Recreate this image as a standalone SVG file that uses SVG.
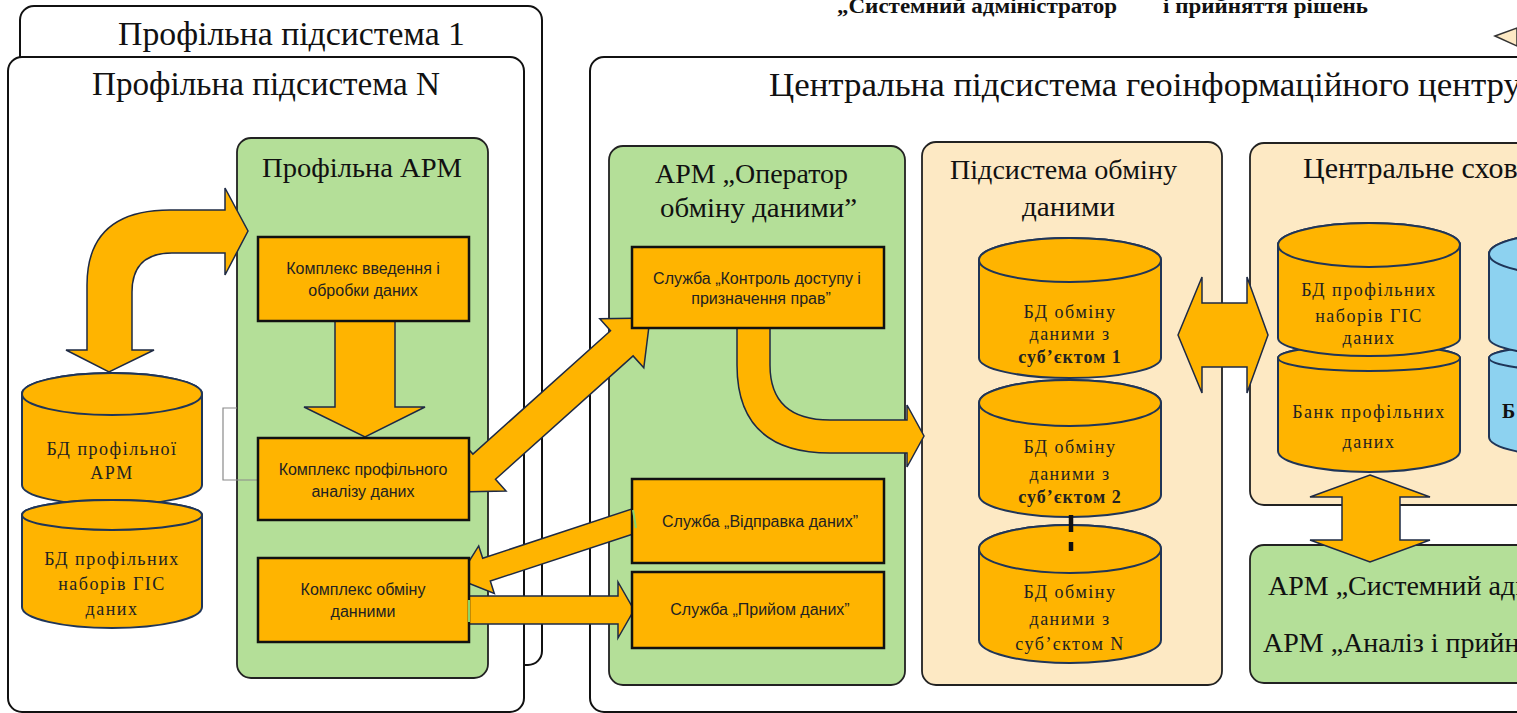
<svg xmlns="http://www.w3.org/2000/svg" width="1517" height="713" viewBox="0 0 1517 713">
<defs>
<style>
.cont{fill:#fff;stroke:#111;stroke-width:2}
.green{fill:#B4DF98;stroke:#222;stroke-width:1.8}
.beige{fill:#FDE9C4;stroke:#222;stroke-width:1.8}
.box{fill:#FFB400;stroke:#111;stroke-width:2.5}
.cyl{fill:#FFB400;stroke:#1F3558;stroke-width:2}
.cylb{fill:#8DD2F0;stroke:#1F3558;stroke-width:2}
.arr{fill:#FFB400;stroke:#1E2A44;stroke-width:1.5;stroke-linejoin:miter}
.t{font-family:"Liberation Serif","Times New Roman",serif;fill:#111}
.s{font-family:"Liberation Sans",Arial,sans-serif;fill:#222;font-size:16px;text-anchor:middle}
.c{font-family:"Liberation Serif","Times New Roman",serif;font-size:18px;letter-spacing:1.5px;fill:#222;text-anchor:middle}
.cb{font-weight:bold;letter-spacing:1px}
.tick{stroke:#8BD46A;stroke-width:2}
</style>
</defs>
<rect width="1517" height="713" fill="#fff"/>

<g id="top-fragment">
<text class="t" x="837" y="13" font-size="20" font-weight="bold" textLength="280" lengthAdjust="spacingAndGlyphs">„Системний адміністратор</text>
<text class="t" x="1163" y="13" font-size="20" font-weight="bold" textLength="205" lengthAdjust="spacingAndGlyphs">і прийняття рішень</text>
<polygon points="1495,36 1517,28 1517,46" fill="#FDE9C4" stroke="#333" stroke-width="1.5"/>
</g>

<g id="sub1">
<rect class="cont" x="20" y="6" width="522" height="659" rx="14"/>
<text class="t" x="118" y="45" font-size="34" textLength="347" lengthAdjust="spacingAndGlyphs">Профільна підсистема 1</text>
</g>
<g id="subN">
<rect class="cont" x="8" y="57" width="516" height="655" rx="14"/>
<text class="t" x="92" y="95" font-size="34" textLength="348" lengthAdjust="spacingAndGlyphs">Профільна підсистема N</text>
</g>
<g id="central">
<rect class="cont" x="590" y="57" width="960" height="655" rx="14"/>
<text class="t" x="769" y="96" font-size="34" textLength="752" lengthAdjust="spacingAndGlyphs">Центральна підсистема геоінформаційного центру</text>
</g>

<g id="arm-profile">
<rect class="green" x="237" y="138" width="251" height="540" rx="14"/>
<text class="t" x="262" y="177" font-size="28" textLength="200" lengthAdjust="spacingAndGlyphs">Профільна АРМ</text>
</g>
<g id="arm-operator">
<rect class="green" x="609" y="146" width="296" height="539" rx="14"/>
<text class="t" x="655" y="183" font-size="28" textLength="193" lengthAdjust="spacingAndGlyphs">АРМ „Оператор</text>
<text class="t" x="660" y="217" font-size="28" textLength="197" lengthAdjust="spacingAndGlyphs">обміну даними”</text>
</g>
<g id="exchange">
<rect class="beige" x="922" y="142" width="300" height="543" rx="14"/>
<text class="t" x="950" y="179" font-size="28" textLength="227" lengthAdjust="spacingAndGlyphs">Підсистема обміну</text>
<text class="t" x="1022" y="216" font-size="28" textLength="93" lengthAdjust="spacingAndGlyphs">даними</text>
</g>
<g id="storage">
<rect class="beige" x="1250" y="143" width="290" height="362" rx="14"/>
<text class="t" x="1303" y="178" font-size="30">Центральне сховище</text>
</g>
<g id="arm-admin">
<rect class="green" x="1250" y="545" width="290" height="138" rx="14"/>
<text class="t" x="1268" y="595" font-size="28">АРМ „Системний адміністратор”</text>
<text class="t" x="1263" y="652" font-size="28">АРМ „Аналіз і прийняття рішень”</text>
</g>

<g id="connectors">
<path class="arr" d="M87,350 L66,350 L109,372 L154,350 L132,350 L132,292 Q132,253 172,253 L225,253 L225,275 L248,231 L225,188 L225,210 L170,210 Q87,210 87,285 Z"/>
<polygon class="arr" points="335,321 335,407 304,407 365,437 425,407 395,407 395,321"/>
<polygon class="arr" points="456,492 506,491 495.5,479.3 633.1,355.9 643.8,367.8 650,318 599.8,318.8 610.5,330.7 472.9,454.1 462.2,442.2"/>
<polygon class="arr" points="458,579 494.3,593.4 490.3,581 643.8,530.4 636.2,507.6 482.7,558.2 478.7,545.9"/>
<polygon class="arr" points="460,596 618,596 618,582 634,610 618,638 618,624 460,624"/>
<path class="arr" d="M737,322 L737,365 Q737,453 830,453 L907,453 L907,467 L924,436 L907,405 L907,420 L830,420 Q770,420 770,365 L770,322 Z"/>
<polygon class="arr" points="1178,335 1202,277 1202,303 1247,303 1247,277 1268,335 1247,393 1247,367 1202,367 1202,393"/>
<polygon class="arr" points="1370,475 1430,497 1400,497 1400,540 1430,540 1370,562 1310,540 1342,540 1342,497 1310,497"/>
<polyline points="237,408 223,408 223,480 258,480" fill="none" stroke="#8a8a8a" stroke-width="1.2"/>
</g>

<g id="box-input">
<rect class="box" x="258" y="237" width="211" height="84"/>
<text class="s" x="363" y="274">Комплекс введення і</text>
<text class="s" x="363" y="296">обробки даних</text>
</g>
<g id="box-analysis">
<rect class="box" x="258" y="438" width="211" height="82"/>
<text class="s" x="363" y="475">Комплекс профільного</text>
<text class="s" x="363" y="497">аналізу даних</text>
</g>
<g id="box-exchange">
<rect class="box" x="258" y="558" width="211" height="84"/>
<text class="s" x="363" y="595">Комплекс обміну</text>
<text class="s" x="363" y="617">данними</text>
<line class="tick" x1="469" y1="600" x2="469" y2="622"/>
</g>

<g id="svc-access">
<rect class="box" x="632" y="247" width="252" height="81"/>
<text class="s" x="757" y="284" font-size="15">Служба „Контроль доступу і</text>
<text class="s" x="761" y="304" font-size="15">призначення прав”</text>
</g>
<g id="svc-send">
<rect class="box" x="632" y="479" width="252" height="84"/>
<text class="s" x="760" y="527" font-size="15">Служба „Відправка даних”</text>
<line class="tick" x1="633" y1="510" x2="636" y2="528"/>
</g>
<g id="svc-receive">
<rect class="box" x="632" y="572" width="252" height="76"/>
<text class="s" x="760" y="615" font-size="15">Служба „Прийом даних”</text>
</g>

<g id="db-arm">
<path class="cyl" d="M22,394 L22,485 A90,20 0 0 0 202,485 L202,394 A90,21 0 0 0 22,394 Z"/>
<ellipse class="cyl" cx="112" cy="394" rx="90" ry="21"/>
<text class="c" x="112" y="455">БД профільної</text>
<text class="c" x="112" y="479">АРМ</text>
</g>
<g id="db-gis">
<path class="cyl" d="M22,515 L22,607 A90,21 0 0 0 202,607 L202,515 A90,15 0 0 0 22,515 Z"/>
<ellipse class="cyl" cx="112" cy="515" rx="90" ry="15"/>
<text class="c" x="112" y="565">БД  профільних</text>
<text class="c" x="112" y="590">наборів ГІС</text>
<text class="c" x="112" y="615">даних</text>
</g>

<g id="db-ex1">
<path class="cyl" d="M979,260 L979,358 A91,20 0 0 0 1161,358 L1161,260 A91,22 0 0 0 979,260 Z"/>
<ellipse class="cyl" cx="1070" cy="260" rx="91" ry="22"/>
<text class="c" x="1070" y="318">БД обміну</text>
<text class="c" x="1070" y="340">даними з</text>
<text class="c cb" x="1070" y="363">суб’єктом 1</text>
</g>
<g id="db-ex2">
<path class="cyl" d="M979,403 L979,495 A91,22 0 0 0 1161,495 L1161,403 A91,23 0 0 0 979,403 Z"/>
<ellipse class="cyl" cx="1070" cy="403" rx="91" ry="23"/>
<text class="c" x="1070" y="453">БД обміну</text>
<text class="c" x="1070" y="480">даними з</text>
<text class="c cb" x="1070" y="503">суб’єктом 2</text>
</g>
<g id="db-exN">
<path class="cyl" d="M979,549 L979,640 A91,23 0 0 0 1161,640 L1161,549 A91,24 0 0 0 979,549 Z"/>
<ellipse class="cyl" cx="1070" cy="549" rx="91" ry="24"/>
<text class="c" x="1070" y="598">БД обміну</text>
<text class="c" x="1070" y="625">даними з</text>
<text class="c" x="1070" y="650">суб’єктом N</text>
</g>
<g id="ellipsis">
<line x1="1071" y1="515" x2="1071" y2="551" stroke="#111" stroke-width="4.5" stroke-dasharray="17,10"/>
</g>

<g id="db-bank">
<path class="cyl" d="M1278,358 L1278,451 A91,21 0 0 0 1460,451 L1460,358 A91,13 0 0 0 1278,358 Z"/>
<ellipse class="cyl" cx="1369" cy="358" rx="91" ry="13"/>
<text class="c" x="1369" y="418">Банк профільних</text>
<text class="c" x="1369" y="448">даних</text>
</g>
<g id="db-storage">
<path class="cyl" d="M1278,245 L1278,338 A91,18 0 0 0 1460,338 L1460,245 A91,22 0 0 0 1278,245 Z"/>
<ellipse class="cyl" cx="1369" cy="245" rx="91" ry="22"/>
<text class="c" x="1369" y="296">БД  профільних</text>
<text class="c" x="1369" y="322">наборів ГІС</text>
<text class="c" x="1369" y="344">даних</text>
</g>
<g id="db-blue">
<path class="cylb" d="M1489,358 L1489,437 A91,20 0 0 0 1671,437 L1671,358 A91,13 0 0 0 1489,358 Z"/>
<ellipse class="cylb" cx="1580" cy="358" rx="91" ry="13"/>
<path class="cylb" d="M1489,254 L1489,338 A91,18 0 0 0 1671,338 L1671,254 A91,22 0 0 0 1489,254 Z"/>
<ellipse class="cylb" cx="1580" cy="254" rx="91" ry="22"/>
<text class="t" x="1502" y="418" font-size="20" font-weight="bold">Б</text>
</g>
</svg>
